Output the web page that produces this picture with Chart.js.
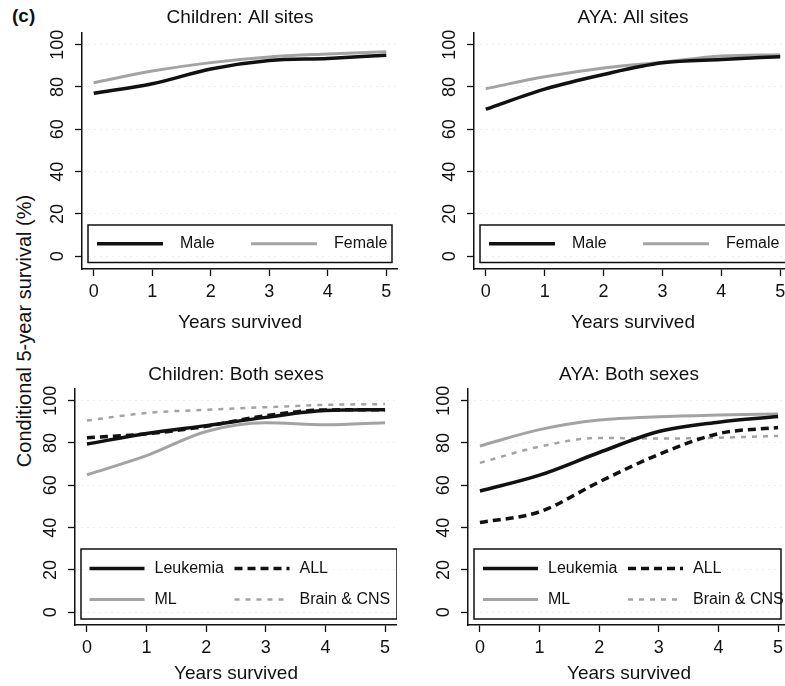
<!DOCTYPE html>
<html>
<head>
<meta charset="utf-8">
<script src="https://cdn.jsdelivr.net/npm/chart.js@4/dist/chart.umd.min.js"></script>
<style>
  html, body { margin: 0; padding: 0; background: #fff; overflow: hidden; }
  body { width: 785px; height: 686px; position: relative; font-family: 'Liberation Sans', Arial, sans-serif; color: #111; }
  canvas { position: absolute; }
  #tag { position: absolute; left: 12px; top: 5px; font-weight: bold; font-size: 19px; }
  #ytitle { position: absolute; left: 24px; top: 331px; transform: translate(-50%, -50%) rotate(-90deg); white-space: nowrap; font-size: 20px; }
</style>
</head>
<body>
<div id="tag">(c)</div>
<div id="ytitle">Conditional 5-year survival (%)</div>
<canvas id="p1" width="356" height="340" style="left:42px;top:0px"></canvas>
<canvas id="p2" width="358" height="340" style="left:434px;top:0px"></canvas>
<canvas id="p3" width="362" height="336" style="left:35px;top:350px"></canvas>
<canvas id="p4" width="362" height="336" style="left:428px;top:350px"></canvas>
<script>
// data
const years = [0, 1, 2, 3, 4, 5];
const xTicks = [0, 1, 2, 3, 4, 5];
const yTicks = [0, 20, 40, 60, 80, 100];

const childMale   = [77, 81.5, 88.5, 92.5, 93.5, 95];
const childFemale = [82, 87.5, 91.5, 94.2, 95.6, 96.7];
const ayaMale     = [69.5, 79, 85.9, 91.4, 93, 94.3];
const ayaFemale   = [79.2, 84.8, 89, 91.7, 94.6, 95.2];

const childLeuk  = [79.5, 84.5, 88.2, 92.1, 95.3, 95.7];
const childALL   = [82.5, 84.3, 87.9, 92.9, 95.6, 95.7];
const childML    = [65, 74, 85.4, 89.5, 88.6, 89.6];
const childBrain = [90.6, 94.2, 95.7, 96.9, 98, 98.4];

const ayaLeuk  = [57.3, 64.8, 75.5, 85.4, 89.8, 92.5];
const ayaALL   = [42.4, 47.5, 61.6, 74.6, 84.4, 87.3];
const ayaML    = [78.6, 86.3, 90.8, 92.4, 93.2, 93.7];
const ayaBrain = [70.6, 78.3, 82.4, 82.1, 82.5, 83.3];

const ink = '#111';
const gray = '#a3a3a3';
const fam = "'Liberation Sans', Arial, sans-serif";

// line styles
const solidBlack = { color: ink, width: 3.5, dash: [] };
const solidGray  = { color: gray, width: 3, dash: [] };
const dashBlack  = { color: ink, width: 3.5, dash: [8, 5] };
const dashGray   = { color: gray, width: 2.5, dash: [5, 6] };

// legend drawn in a box inside the plot, like the Stata original
const boxLegend = {
  id: 'boxLegend',
  afterDraw(chart, args, o) {
    const { ctx, chartArea: a } = chart;
    const left = a.left + o.insetLeft, right = a.right - o.insetRight;
    const bottom = a.bottom - o.insetBottom, top = bottom - o.height;
    const ds = chart.data.datasets;
    const rows = Math.ceil(ds.length / 2);
    const mid = (top + bottom) / 2;
    ctx.save();
    ctx.strokeStyle = ink;
    ctx.lineWidth = 1.5;
    ctx.strokeRect(left, top, right - left, bottom - top);
    ctx.font = '16px ' + fam;
    ctx.textBaseline = 'middle';
    ds.forEach((d, i) => {
      const col = i % 2, row = Math.floor(i / 2);
      const x0 = left + o.padX + col * o.colWidth;
      const y = mid + (row - (rows - 1) / 2) * o.rowGap;
      ctx.setLineDash(d.borderDash || []);
      ctx.lineWidth = d.borderWidth;
      ctx.strokeStyle = d.borderColor;
      ctx.beginPath();
      ctx.moveTo(x0, y);
      ctx.lineTo(x0 + o.lineLen, y);
      ctx.stroke();
      ctx.setLineDash([]);
      ctx.fillStyle = ink;
      ctx.fillText(d.label, x0 + o.lineLen + o.gap, y);
    });
    ctx.restore();
  }
};

function makePanel(id, titleText, series, cfg) {
  new Chart(document.getElementById(id), {
    type: 'line',
    data: {
      datasets: series.map(s => ({
        label: s.label,
        data: years.map((x, i) => ({ x: x, y: s.values[i] })),
        borderColor: s.style.color,
        borderWidth: s.style.width,
        borderDash: s.style.dash,
        pointRadius: 0,
        cubicInterpolationMode: 'monotone',
        fill: false
      }))
    },
    options: {
      responsive: false,
      animation: false,
      layout: { padding: 0, autoPadding: false },
      plugins: {
        legend: { display: false },
        tooltip: { enabled: false },
        title: {
          display: true, text: titleText, fullSize: false, color: ink,
          font: { size: 19, family: fam, weight: 'normal' },
          padding: { top: cfg.titleTop, bottom: cfg.titleBottom }
        },
        boxLegend: cfg.legend
      },
      scales: {
        x: {
          type: 'linear', min: -0.2, max: 5.2,
          afterBuildTicks: s => { s.ticks = xTicks.map(v => ({ value: v })); },
          afterFit: s => { s.height = cfg.xH; },
          grid: { drawOnChartArea: false, tickLength: 7, tickColor: ink, tickWidth: 1.3 },
          border: { color: ink, width: 1.5 },
          ticks: { color: ink, font: { size: 18, family: fam }, padding: 5, maxRotation: 0, autoSkip: false },
          title: {
            display: true, text: 'Years survived', color: ink,
            font: { size: 19, family: fam }, padding: { top: 0, bottom: cfg.xTitleBottom }
          }
        },
        y: {
          type: 'linear', min: -6, max: 105.5,
          afterBuildTicks: s => { s.ticks = yTicks.map(v => ({ value: v })); },
          afterFit: s => { s.width = 40; },
          grid: { color: '#dedede', lineWidth: 1, tickLength: 7, tickColor: ink, tickWidth: 1.3, tickBorderDash: [] },
          border: { color: ink, width: 1.5, dash: [1, 5] },
          ticks: {
            color: ink, font: { size: 18, family: fam }, padding: 2,
            minRotation: 90, maxRotation: 90, crossAlign: 'center', autoSkip: false
          }
        }
      }
    },
    plugins: [boxLegend]
  });
}

const topLegend = { insetLeft: 6, insetRight: 6, insetBottom: 6.5, height: 37.5, padX: 9, colWidth: 154, lineLen: 66, gap: 17, rowGap: 0 };
const botLegend = { insetLeft: 6, insetRight: 0, insetBottom: 6, height: 70, padX: 8.5, colWidth: 145, lineLen: 55, gap: 10, rowGap: 31 };

makePanel('p1', 'Children: All sites', [
  { label: 'Male', values: childMale, style: solidBlack },
  { label: 'Female', values: childFemale, style: solidGray }
], { titleTop: 6.5, titleBottom: 3.7, xH: 71, xTitleBottom: 6, legend: topLegend });

makePanel('p2', 'AYA: All sites', [
  { label: 'Male', values: ayaMale, style: solidBlack },
  { label: 'Female', values: ayaFemale, style: solidGray }
], { titleTop: 6.5, titleBottom: 3.7, xH: 71, xTitleBottom: 6, legend: topLegend });

makePanel('p3', 'Children: Both sexes', [
  { label: 'Leukemia', values: childLeuk, style: solidBlack },
  { label: 'ALL', values: childALL, style: dashBlack },
  { label: 'ML', values: childML, style: solidGray },
  { label: 'Brain & CNS', values: childBrain, style: dashGray }
], { titleTop: 13.6, titleBottom: 2.6, xH: 61, xTitleBottom: 1, legend: botLegend });

makePanel('p4', 'AYA: Both sexes', [
  { label: 'Leukemia', values: ayaLeuk, style: solidBlack },
  { label: 'ALL', values: ayaALL, style: dashBlack },
  { label: 'ML', values: ayaML, style: solidGray },
  { label: 'Brain & CNS', values: ayaBrain, style: dashGray }
], { titleTop: 13.6, titleBottom: 2.6, xH: 61, xTitleBottom: 1, legend: Object.assign({}, botLegend, { insetRight: 9, padX: 9 }) });
</script>
</body>
</html>
